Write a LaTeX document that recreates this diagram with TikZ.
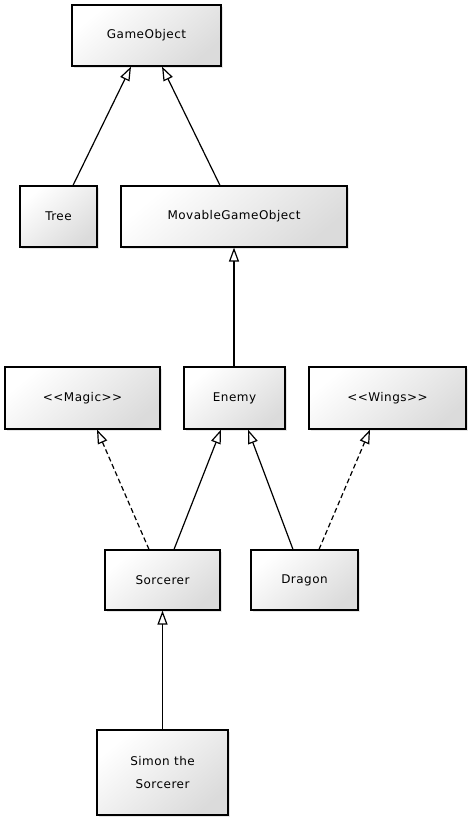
\documentclass[tikz,border=0pt]{standalone}
\usepackage{fontspec}
\newfontfamily\umlfont[LetterSpace=4]{DejaVu Sans}
\usetikzlibrary{arrows.meta,shadows}

\begin{document}
\begin{tikzpicture}[x=1pt, y=-1pt, line width=1.2pt,
        cls/.style={draw, font=\umlfont\fontsize{12}{14}\selectfont, align=center, inner sep=0pt,
          top color=white, bottom color=black!14, shading angle=40,
          drop shadow={opacity=0.2, shadow xshift=2pt, shadow yshift=-2pt}},
        inherit/.style={-{Triangle[open, width=10pt, length=14pt]}},
        realize/.style={inherit, dash pattern=on 5pt off 3pt}]
        \useasboundingbox (0,0) rectangle (472,821);
        % classes
        \node[cls, minimum width=149pt, minimum height=61pt] (game) at (146.5,35.5) {GameObject};
        \node[cls, minimum width=77pt, minimum height=61pt] (tree) at (58.5,216.5) {Tree};
        \node[cls, minimum width=226pt, minimum height=61pt] (movable) at (234,216.5) {MovableGameObject};
        \node[cls, minimum width=155pt, minimum height=62pt] (magic) at (82.5,398) {<<Magic>>};
        \node[cls, minimum width=101pt, minimum height=62pt] (enemy) at (234.5,398) {Enemy};
        \node[cls, minimum width=157pt, minimum height=62pt] (wings) at (387.5,398) {<<Wings>>};
        \node[cls, minimum width=115pt, minimum height=60pt] (sorcerer) at (162.5,580) {Sorcerer};
        \node[cls, minimum width=107pt, minimum height=60pt] (dragon) at (304.5,580) {Dragon};
        \node[cls, minimum width=131pt, minimum height=85pt] (simon) at (162.5,772.5) {Simon the\\[9pt]Sorcerer};
        % generalisations
        \draw[inherit] ([xshift=14.5pt]tree.north) -- ([xshift=-15.5pt]game.south);
        \draw[inherit] ([xshift=-14pt]movable.north) -- ([xshift=15.5pt]game.south);
        \draw[inherit] ([xshift=-0.5pt]enemy.north) -- ([xshift=0pt]movable.south);
        \draw[inherit] ([xshift=11.5pt]sorcerer.north) -- ([xshift=-13.5pt]enemy.south);
        \draw[inherit] ([xshift=-11.5pt]dragon.north) -- ([xshift=13.5pt]enemy.south);
        \draw[inherit] (simon.north) -- (sorcerer.south);
        % realisations
        \draw[realize] ([xshift=-13.5pt]sorcerer.north) -- ([xshift=14.5pt]magic.south);
        \draw[realize] ([xshift=14.5pt]dragon.north) -- ([xshift=-17.5pt]wings.south);
      \end{tikzpicture}
\end{document}
